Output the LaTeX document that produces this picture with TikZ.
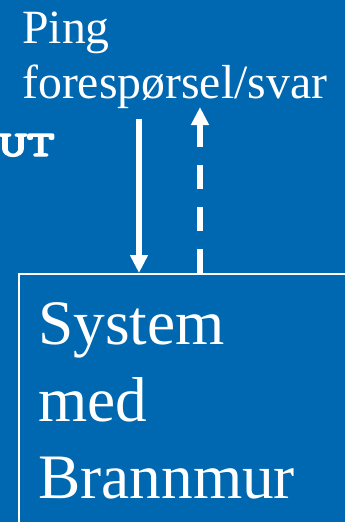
\documentclass[tikz,border=0pt]{standalone}
\usepackage{fontspec}
\setmainfont{Liberation Serif}
\newfontfamily\codefont[FakeBold=4]{Latin Modern Mono}
\usetikzlibrary{arrows.meta,positioning}
\definecolor{slideblue}{RGB}{0,104,176}

\begin{document}
\begin{tikzpicture}[
  x=0.75pt, y=-0.75pt,
  caption/.style={inner sep=0pt, text=white, align=left,
    font=\fontsize{35.8}{41.25}\selectfont},
  sysname/.style={inner sep=0pt, text=white, align=left,
    font=\fontsize{47.5}{57.4}\selectfont},
  wall/.style={draw=white, line width=1.6pt, inner sep=0pt,
    minimum width=270pt, minimum height=200pt},
  arrow/.style={white, line width=4pt,
    -{Triangle[length=13.5pt, width=12.75pt]}},
  reply/.style={arrow, dash pattern=on 18pt off 13.5pt}
]
  \fill[slideblue] (0,0) rectangle (345,522);
  \clip (0,0) rectangle (345,522);

  % multi-line nodes sit on the baseline of their last line
  \node[caption, anchor=base west] (ping) at (22,98)
    {Ping\\forespørsel/svar};
  \node[inner sep=0pt, text=white, anchor=base east,
    font=\codefont\fontsize{27}{29}\selectfont] (dir) at (55,156)
    {\scalebox{1.5}[1]{UT}};

  % the firewalled host, running off the page
  \node[wall, anchor=north west] (fw) at (18,273) {};
  \node[sysname, anchor=base west] (sys) at (38,498)
    {System\\med\\Brannmur};

  \coordinate (req) at (139,119);
  \coordinate (rep) at (200,107);
  \draw[arrow] (req) -- (req |- fw.north);
  \draw[reply] (rep |- fw.north) -- (rep);
\end{tikzpicture}
\end{document}
